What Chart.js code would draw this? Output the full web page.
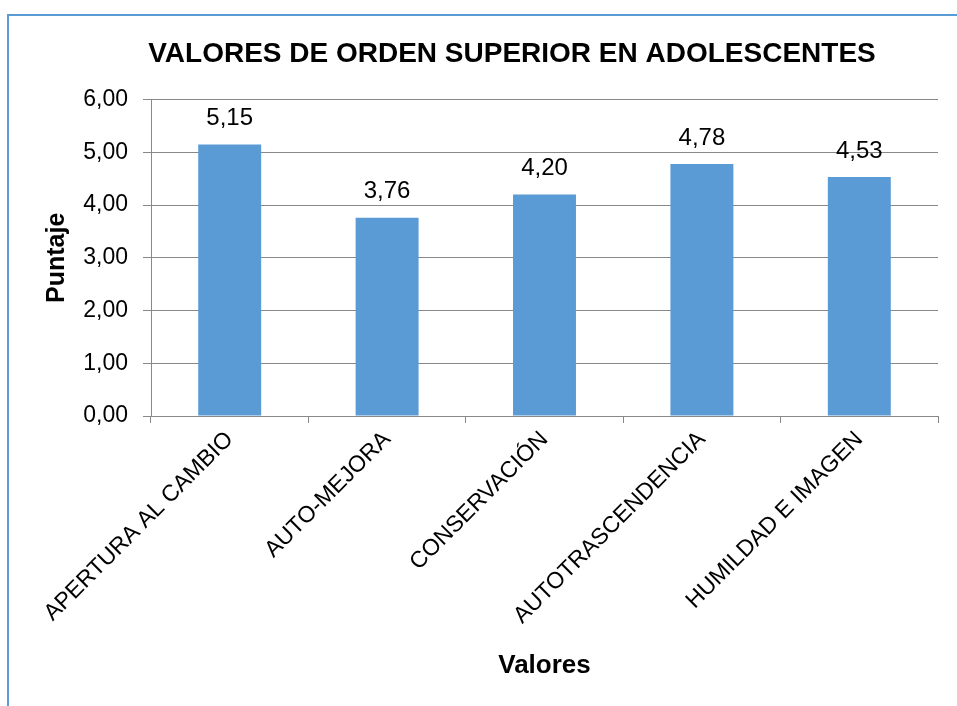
<!DOCTYPE html>
<html>
<head>
<meta charset="utf-8">
<script src="https://cdn.jsdelivr.net/npm/chart.js@4"></script>
<style>
    html, body { margin: 0; padding: 0; background: #ffffff; }
    #wrap { position: relative; width: 957px; height: 706px; overflow: hidden; }
    #frame { position: absolute; left: 7px; top: 14px; width: 1000px; height: 800px;
             border-left: 2px solid #5b9bd5; border-top: 2px solid #5b9bd5; }
    canvas { position: absolute; left: 0; top: 0; }
</style>
</head>
<body>
<div id="wrap">
    <div id="frame"></div>
    <canvas id="myChart" width="957" height="706"></canvas>
</div>
<script>
// Datos del gráfico
const categorias = ['APERTURA AL CAMBIO', 'AUTO-MEJORA', 'CONSERVACIÓN', 'AUTOTRASCENDENCIA', 'HUMILDAD E IMAGEN'];
const puntajes = [5.15, 3.76, 4.20, 4.78, 4.53];
const tituloGrafico = 'VALORES DE ORDEN SUPERIOR EN ADOLESCENTES';
const tituloEjeX = 'Valores';
const tituloEjeY = 'Puntaje';

const fuente = "'Liberation Sans', Arial, sans-serif";

// Formato con coma decimal
function formatoComa(v) {
    return Number(v).toFixed(2).replace('.', ',');
}

// Etiquetas de valor sobre cada barra
const etiquetasValor = {
    id: 'etiquetasValor',
    afterLayout(chart) {
        // el título va un poco a la derecha, como en el original
        if (chart.titleBlock) {
            chart.titleBlock.left += 44;
        }
    },
    afterDatasetsDraw(chart) {
        const ctx = chart.ctx;
        const meta = chart.getDatasetMeta(0);
        ctx.save();
        ctx.font = '24px ' + fuente;
        ctx.fillStyle = '#000000';
        ctx.textAlign = 'center';
        ctx.textBaseline = 'middle';
        meta.data.forEach((bar, i) => {
            ctx.fillText(formatoComa(chart.data.datasets[0].data[i]), bar.x, bar.y - 26);
        });
        ctx.restore();
    }
};

const ctx = document.getElementById('myChart').getContext('2d');
new Chart(ctx, {
    type: 'bar',
    data: {
        labels: categorias,
        datasets: [{
            label: tituloEjeY,
            data: puntajes,
            backgroundColor: '#5b9bd5',
            borderWidth: 0,
            categoryPercentage: 1,
            barPercentage: 0.4
        }]
    },
    plugins: [etiquetasValor],
    options: {
        responsive: false,
        animation: false,
        layout: {
            padding: { top: 0, left: 42, right: 19, bottom: 21 }
        },
        scales: {
            y: {
                min: 0,
                max: 6,
                afterFit(scale) { scale.width = 109; },
                ticks: {
                    stepSize: 1,
                    padding: 15,
                    color: '#000000',
                    font: { size: 23, family: fuente },
                    callback: (v) => formatoComa(v)
                },
                grid: {
                    color: '#888888',
                    lineWidth: 1,
                    tickLength: 8
                },
                border: { display: true, color: '#888888', width: 1 },
                title: {
                    display: true,
                    text: tituloEjeY,
                    color: '#000000',
                    font: { size: 25, weight: 'bold', family: fuente },
                    padding: { top: 0, bottom: 0 }
                }
            },
            x: {
                afterFit(scale) { scale.height = 269; },
                ticks: {
                    maxRotation: 45,
                    minRotation: 45,
                    padding: 3,
                    color: '#000000',
                    font: { size: 23, family: fuente }
                },
                grid: {
                    offset: true,
                    drawOnChartArea: false,
                    color: '#888888',
                    tickLength: 7
                },
                border: { display: true, color: '#888888', width: 1 },
                title: {
                    display: true,
                    text: tituloEjeX,
                    color: '#000000',
                    font: { size: 26, weight: 'bold', family: fuente },
                    padding: { top: 4, bottom: 4 }
                }
            }
        },
        plugins: {
            legend: { display: false },
            tooltip: { enabled: false },
            title: {
                display: true,
                text: tituloGrafico,
                color: '#000000',
                font: { size: 28, weight: 'bold', family: fuente },
                padding: { top: 37, bottom: 29 }
            }
        }
    }
});
</script>
</body>
</html>
